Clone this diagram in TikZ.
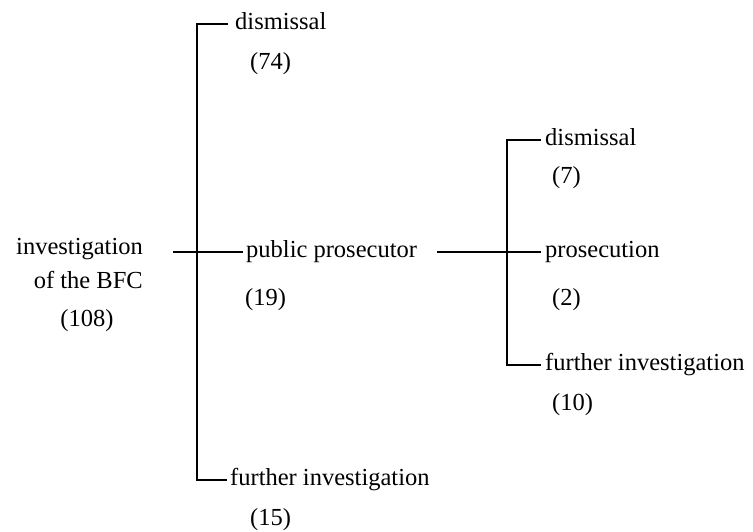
\documentclass[tikz,border=0pt]{standalone}
\usepackage{fontspec}
\setmainfont{Liberation Serif}
\begin{document}
\begin{tikzpicture}[x=1pt,y=-1pt,
        lbl/.style={anchor=west,inner sep=0pt,font=\fontsize{24.5}{29}\selectfont,text height=17pt,text depth=6pt},
        br/.style={draw,line width=1.4pt,-}]
        \useasboundingbox (0,0) rectangle (753,531);
        \node[lbl,anchor=east] (inv) at (143,249) {investigation};
        \node[lbl,anchor=east] (bfc) at (143,283) {of the BFC};
        \node[lbl,anchor=center] (n108) at (87,321) {(108)};

        \coordinate (ltop) at (197,24);
        \coordinate (lbot) at (197,480);
        \node[lbl] (dis1) at (235,24) {dismissal};
        \node[lbl] (n74) at (250,64) {(74)};
        \node[lbl] (pp) at (246,252) {public prosecutor};
        \node[lbl] (n19) at (245,300) {(19)};
        \node[lbl] (fi1) at (230,480) {further investigation};
        \node[lbl] (n15) at (250,520) {(15)};

        \coordinate (rtop) at (507,140);
        \coordinate (rbot) at (507,365);
        \node[lbl] (dis2) at (545,140) {dismissal};
        \node[lbl] (n7) at (552,178) {(7)};
        \node[lbl] (pros) at (545,252) {prosecution};
        \node[lbl] (n2) at (552,300) {(2)};
        \node[lbl] (fi2) at (545,365) {further investigation};
        \node[lbl] (n10) at (552,405) {(10)};

        \path[br,shorten <=30pt,shorten >=3pt] (inv.east |- pp.west) -- (pp.west);
        \path[br,shorten <=7pt,shorten >=3pt] (dis1.west) -- (ltop) -- (lbot) -- (fi1.west);
        \path[br,shorten <=20pt,shorten >=4pt] (pp.east) -- (pros.west);
        \path[br,shorten <=4pt,shorten >=4pt] (dis2.west) -- (rtop) -- (rbot) -- (fi2.west);
    \end{tikzpicture}
\end{document}
